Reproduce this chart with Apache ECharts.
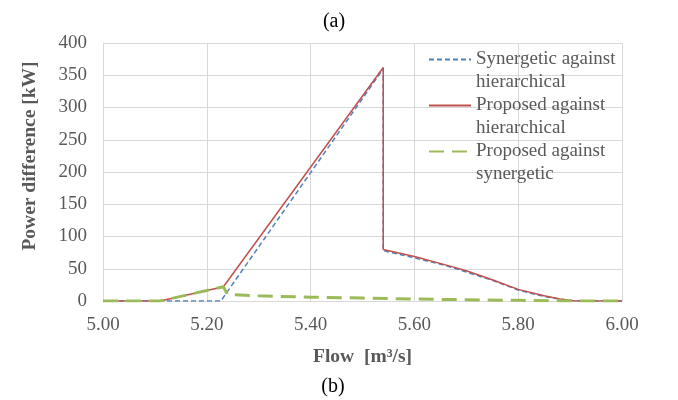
<!DOCTYPE html>
<html>
<head>
<meta charset="utf-8">
<script src="https://cdn.jsdelivr.net/npm/echarts@6/dist/echarts.min.js"></script>
<style>html,body{margin:0;padding:0;background:#fff;}#chart{width:678px;height:400px;}</style>
</head>
<body>
<div id="chart"></div>
<script>
// Series names
var seriesNames = ['Synergetic against\nhierarchical', 'Proposed against\nhierarchical', 'Proposed against\nsynergetic'];

// Synergetic against hierarchical
var flowSyn = [5.00, 5.227, 5.54, 5.54, 5.60, 5.66, 5.70, 5.75, 5.80, 5.85, 5.88, 5.91, 6.00];
var powerSyn = [0, 0, 360, 78, 67, 55, 45, 32, 17, 7, 3, 0, 0];

// Proposed against hierarchical
var flowPropH = [5.00, 5.11, 5.232, 5.54, 5.54, 5.60, 5.66, 5.70, 5.75, 5.80, 5.85, 5.88, 5.91, 6.00];
var powerPropH = [0, 0, 22, 362, 80, 69, 56, 47, 33, 18, 8, 3, 0, 0];

// Proposed against synergetic
var flowPropS = [5.00, 5.11, 5.232, 5.24, 5.30, 5.40, 5.50, 5.60, 5.70, 5.80, 5.90, 6.00];
var powerPropS = [0, 0, 22, 10, 8, 6, 4.5, 3, 2, 1, 0, 0];

// Axis ticks
var xMin = 5.0, xMax = 6.0, xStep = 0.2;
var yMin = 0, yMax = 400, yStep = 50;

function pairs(xs, ys) { return xs.map(function (x, i) { return [x, ys[i]]; }); }

var font = 'Liberation Serif';
var chart = echarts.init(document.getElementById('chart'));
chart.setOption({
  backgroundColor: '#fff',
  animation: false,
  title: [
    { text: '(a)', left: 329, top: 7, textAlign: 'center', textStyle: { fontFamily: font, fontSize: 20, fontWeight: 'normal', color: '#000' } },
    { text: '(b)', left: 328, top: 372, textAlign: 'center', textStyle: { fontFamily: font, fontSize: 20, fontWeight: 'normal', color: '#000' } }
  ],
  grid: { left: 103, right: 56, top: 43, bottom: 99 },
  legend: {
    orient: 'vertical',
    left: 423,
    top: 20,
    itemWidth: 42,
    itemHeight: 14,
    itemGap: -23,
    data: seriesNames,
    itemStyle: { color: 'rgba(0,0,0,0)', borderWidth: 0, opacity: 0 },
    formatter: function (n) { return ' \n' + n; },
    textStyle: { fontFamily: font, fontSize: 19, color: '#595959', lineHeight: 23 }
  },
  xAxis: {
    type: 'value', min: xMin, max: xMax, interval: xStep,
    name: 'Flow  [m³/s]', nameLocation: 'middle', nameGap: 46,
    nameTextStyle: { fontFamily: font, fontSize: 19.5, fontWeight: 'bold', color: '#595959' },
    axisLine: { show: true, lineStyle: { color: '#D9D9D9' } },
    axisTick: { show: false },
    axisLabel: { fontFamily: font, fontSize: 19, color: '#595959', margin: 15, formatter: function (v) { return v.toFixed(2); } },
    splitLine: { show: true, lineStyle: { color: '#D9D9D9' } }
  },
  yAxis: {
    type: 'value', min: yMin, max: yMax, interval: yStep,
    name: 'Power difference [kW]', nameLocation: 'middle', nameGap: 63, nameRotate: 90,
    nameTextStyle: { fontFamily: font, fontSize: 19.5, fontWeight: 'bold', color: '#595959', padding: [0, 0, 0, 32] },
    axisLine: { show: true, lineStyle: { color: '#D9D9D9' } },
    axisTick: { show: false },
    axisLabel: { fontFamily: font, fontSize: 19, color: '#595959', margin: 16 },
    splitLine: { show: true, lineStyle: { color: '#D9D9D9' } }
  },
  series: [
    {
      name: seriesNames[0], type: 'line', symbol: 'none', data: pairs(flowSyn, powerSyn), z: 3,
      lineStyle: { color: '#4F81BD', width: 1.5, type: [5, 3] }, itemStyle: { color: '#4F81BD' }
    },
    {
      name: seriesNames[1], type: 'line', symbol: 'none', data: pairs(flowPropH, powerPropH), z: 4,
      lineStyle: { color: '#C0504D', width: 1.5 }, itemStyle: { color: '#C0504D' }
    },
    {
      name: seriesNames[2], type: 'line', symbol: 'none', data: pairs(flowPropS, powerPropS), z: 5,
      lineStyle: { color: '#9BBB59', width: 3, type: [15, 8] }, itemStyle: { color: '#9BBB59' }
    }
  ]
});
</script>
</body>
</html>
